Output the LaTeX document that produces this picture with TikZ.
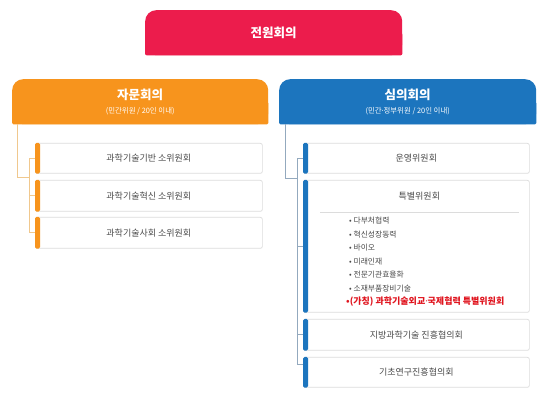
\documentclass[tikz,border=0pt]{standalone}
\usepackage{fontspec}
\setmainfont{Noto Sans CJK KR}
\newfontfamily\latinf{Noto Sans}
\newcommand{\mydot}{{\latinf ·}}
\usetikzlibrary{calc}
\definecolor{crim}{HTML}{EC1C4C}
\definecolor{orng}{HTML}{F7941D}
\definecolor{blu}{HTML}{1C75BE}
\definecolor{oline}{HTML}{F0C88E}
\definecolor{bline}{HTML}{93A9BE}
\definecolor{txt}{HTML}{4A4A4A}
\definecolor{bord}{HTML}{DCDCDC}
\definecolor{redtxt}{HTML}{E0141E}
\tikzset{
  hdr/.style={rounded corners=11pt, minimum height=45pt, inner sep=0pt, anchor=north west},
  subbox/.style={draw=bord, fill=white, rounded corners=2pt, line width=0.7pt, minimum width=226pt, inner sep=0pt, anchor=north west, text=txt, font=\fontsize{9}{10}\selectfont},
  htitle/.style={text=white, font=\bfseries\fontsize{12.5}{12}\selectfont, inner sep=0pt},
  hsub/.style={text=white, font=\fontsize{7.4}{8}\selectfont, inner sep=0pt},
  olink/.style={draw=oline, line width=0.8pt},
  blink/.style={draw=bline, line width=0.8pt},
  item/.style={anchor=west, inner sep=0pt, text=txt, font=\fontsize{7.8}{8}\selectfont},
}
\begin{document}
\begin{tikzpicture}[x=1pt,y=-1pt]
\useasboundingbox[fill=white] (0,0) rectangle (550,401);
% top
\node[hdr, fill=crim, minimum width=257pt] (top) at (145,10) {};
\fill[crim, rounded corners=2pt] ($(top.west)$) rectangle (top.south east);
\node[htitle] (topT) at (top.center) {전원회의};
% orange header
\node[hdr, fill=orng, minimum width=256pt] (adv) at (12,79) {};
\fill[orng, rounded corners=1.5pt] (adv.west) rectangle (adv.south east);
\node[htitle] (advT) at ($(adv.north)+(0,16)$) {자문회의};
\node[hsub] (advS) at ($(adv.north)+(0,32)$) {(민간위원 / 20인 이내)};
% blue header
\node[hdr, fill=blu, minimum width=257pt] (del) at (279,79) {};
\fill[blu, rounded corners=1.5pt] (del.west) rectangle (del.south east);
\node[htitle] (delT) at ($(del.north)+(0,16)$) {심의회의};
\node[hsub] (delS) at ($(del.north)+(0,32)$) {(민간\mydot 정부위원 / 20인 이내)};
% left boxes
\node[subbox, minimum width=227pt, minimum height=30pt] (a1) at (35,143) {과학기술기반 소위원회};
\node[subbox, minimum width=227pt, minimum height=31pt] (a2) at (35,180) {과학기술혁신 소위원회};
\node[subbox, minimum width=227pt, minimum height=31pt] (a3) at (35,217) {과학기술사회 소위원회};
\foreach \n in {a1,a2,a3}{
  \fill[orng, rounded corners=1.5pt] (\n.north west) rectangle ($(\n.south west)+(5,0)$);
}
% right boxes
\node[subbox, minimum height=30pt] (b1) at (303,143) {운영위원회};
\node[subbox, minimum height=132pt] (b2) at (303,180) {};
\node[subbox, minimum height=31pt] (b3) at (303,319) {지방과학기술 진흥협의회};
\node[subbox, minimum height=30pt] (b4) at (303,357) {기초연구진흥협의회};
\foreach \n in {b1,b2,b3,b4}{
  \fill[blu, rounded corners=1.5pt] (\n.north west) rectangle ($(\n.south west)+(5,0)$);
}
% special committee content
\node[inner sep=0pt, text=txt, font=\fontsize{9}{10}\selectfont] (b2T) at ($(b2.north)+(3,16)$) {특별위원회};
\draw[bord, line width=0.6pt] ($(b2.north west)+(17,32)$) coordinate (sepL) -- ($(b2.north east)+(-11,32)$) coordinate (sepR);
\node[item] (i1) at (349,221) {• 다부처협력};
\node[item] (i2) at (349,234.5) {• 혁신성장동력};
\node[item] (i3) at (349,248) {• 바이오};
\node[item] (i4) at (349,261.5) {• 미래인재};
\node[item] (i5) at (349,275) {• 전문기관효율화};
\node[item] (i6) at (349,288.5) {• 소재부품장비기술};
\node[item, text=redtxt, font=\bfseries\fontsize{9}{9}\selectfont] (i7) at (346,302) {•(가칭) 과학기술외교{\latinf\bfseries ·}국제협력 특별위원회};
% left connectors
\coordinate (aj) at ($(adv.south west)+(5,53)$);
\draw[olink] ($(adv.south west)+(5,0)$) -- (aj) -- (aj -| 29,0);
\draw[olink] (a1.west -| 29,0) -- (a3.west -| 29,0);
\foreach \n in {a1,a2,a3}{ \draw[olink] (\n.west -| 29,0) -- (\n.west); }
% right connectors
\coordinate (bj) at ($(del.south west)+(6,54)$);
\draw[blink] ($(del.south west)+(6,0)$) -- (bj) -- (bj -| 297,0);
\draw[blink] (b1.west -| 297,0) -- (297,364);
\draw[blink] (b1.west -| 297,0) -- (b1.west);
\draw[blink] (297,246) -- (b2.west |- 0,246);
\draw[blink] (b3.west -| 297,0) -- (b3.west);
\draw[blink] (297,364) -- (b4.west |- 0,364);
\end{tikzpicture}
\end{document}
